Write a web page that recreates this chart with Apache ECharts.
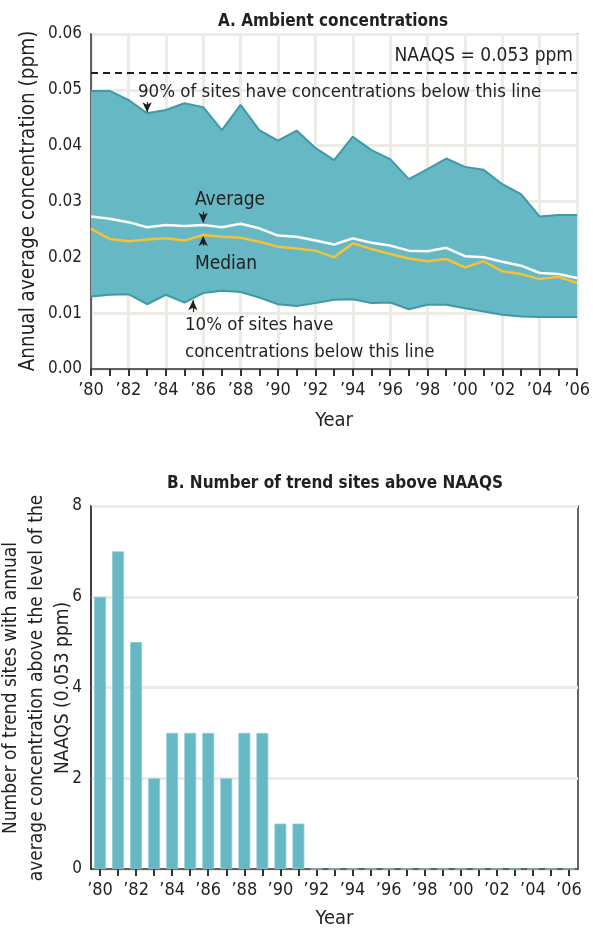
<!DOCTYPE html>
<html><head><meta charset="utf-8">
<script src="https://cdn.jsdelivr.net/npm/echarts@6/dist/echarts.min.js"></script>
<style>html,body{margin:0;padding:0;background:#fff}#c{width:593px;height:931px}</style>
</head><body><div id="c"></div>
<script>
const years = [1980,1981,1982,1983,1984,1985,1986,1987,1988,1989,1990,1991,1992,1993,1994,1995,1996,1997,1998,1999,2000,2001,2002,2003,2004,2005,2006];
const yearLabels = ['’80','’81','’82','’83','’84','’85','’86','’87','’88','’89','’90','’91','’92','’93','’94','’95','’96','’97','’98','’99','’00','’01','’02','’03','’04','’05','’06'];
const p90 = [0.0498,0.0498,0.0482,0.0458,0.0464,0.0476,0.0469,0.0428,0.0473,0.0428,0.0409,0.0427,0.0396,0.0374,0.0416,0.0392,0.0376,0.0340,0.0358,0.0377,0.0362,0.0357,0.0331,0.0313,0.0273,0.0276,0.0276];
const average = [0.0273,0.0269,0.0263,0.0254,0.0258,0.0256,0.0258,0.0254,0.0260,0.0252,0.0239,0.0237,0.0230,0.0223,0.0234,0.0226,0.0221,0.0212,0.0211,0.0217,0.0202,0.0200,0.0192,0.0185,0.0172,0.0170,0.0163];
const median = [0.0251,0.0233,0.0229,0.0232,0.0234,0.0230,0.0240,0.0237,0.0235,0.0228,0.0219,0.0216,0.0212,0.0200,0.0225,0.0215,0.0206,0.0198,0.0193,0.0197,0.0182,0.0193,0.0175,0.0170,0.0161,0.0165,0.0154];
const p10 = [0.0130,0.0133,0.0134,0.0116,0.0133,0.0119,0.0136,0.0140,0.0138,0.0128,0.0116,0.0113,0.0118,0.0124,0.0125,0.0118,0.0119,0.0107,0.0115,0.0115,0.0109,0.0103,0.0097,0.0094,0.0093,0.0093,0.0093];
const sitesAbove = [6,7,5,2,3,3,3,2,3,3,1,1,0,0,0,0,0,0,0,0,0,0,0,0,0,0,0];
const naaqs = 0.053;

const FONT = "'Liberation Sans Narrow','DejaVu Sans Condensed',sans-serif";
const TXT = '#231f20';
const FILL = '#66b8c4';
const EDGE = '#3f99a6';
const GRIDC = '#ecebe6';

const chart = echarts.init(document.getElementById('c'));
const arrow = (yr, y1, y2) => [{coord:[yr,y1]},{coord:[yr,y2]}];
const txt = (text, x, y, size, align, rot) => ({type:'text', x, y, z:100, rotation:rot||0,
  style:{text, fontFamily:FONT, fontSize:size, fill:TXT, textAlign:align, textVerticalAlign:'middle'}});

chart.setOption({
  animation:false,
  textStyle:{fontFamily:FONT, color:TXT},
  title:[
    {text:'A. Ambient concentrations', left:328, top:8, textAlign:'center',
     textStyle:{fontFamily:FONT, fontWeight:'bold', fontSize:17, color:TXT}},
    {text:'B. Number of trend sites above NAAQS', left:330, top:470, textAlign:'center',
     textStyle:{fontFamily:FONT, fontWeight:'bold', fontSize:17, color:TXT}}
  ],
  grid:[
    {left:91, top:34, right:15, height:335, show:true, borderColor:'#333', borderWidth:1.5, backgroundColor:'transparent'},
    {left:91, top:506, right:15, height:363, show:true, borderColor:'#333', borderWidth:1.5, backgroundColor:'transparent'}
  ],
  xAxis:[
    {gridIndex:0, type:'category', data:yearLabels, boundaryGap:false,
     axisLine:{show:true, lineStyle:{color:'#333', width:1.5}},
     axisTick:{show:true, interval:0, length:7, lineStyle:{color:'#333', width:2}},
     axisLabel:{interval:1, margin:12, fontSize:18, color:TXT, fontFamily:FONT},
     splitLine:{show:true, interval:1, lineStyle:{color:GRIDC, width:3}},
     name:'Year', nameLocation:'middle', nameGap:42, nameTextStyle:{fontSize:20, color:TXT, fontFamily:FONT}},
    {gridIndex:1, type:'category', data:yearLabels, boundaryGap:true,
     axisLine:{show:true, lineStyle:{color:'#333', width:1.5}},
     axisTick:{show:true, interval:0, alignWithLabel:true, length:7, lineStyle:{color:'#333', width:2}},
     axisLabel:{interval:1, margin:12, fontSize:18, color:TXT, fontFamily:FONT},
     splitLine:{show:false},
     name:'Year', nameLocation:'middle', nameGap:40, nameTextStyle:{fontSize:20, color:TXT, fontFamily:FONT}},
    {gridIndex:0, type:'value', min:1980, max:2006, show:false}
  ],
  yAxis:[
    {gridIndex:0, type:'value', min:0, max:0.06, interval:0.01,
     axisLine:{show:true, lineStyle:{color:'#333', width:1.5}},
     axisTick:{show:false},
     axisLabel:{margin:9, fontSize:17, color:TXT, fontFamily:FONT, formatter:v=>v.toFixed(2)},
     splitLine:{show:true, lineStyle:{color:GRIDC, width:3}}},
    {gridIndex:1, type:'value', min:0, max:8, interval:2,
     axisLine:{show:true, lineStyle:{color:'#333', width:1.5}},
     axisTick:{show:false},
     axisLabel:{margin:9, fontSize:17, color:TXT, fontFamily:FONT},
     splitLine:{show:true, lineStyle:{color:GRIDC, width:3}}}
  ],
  series:[
    {name:'p10', type:'line', xAxisIndex:0, yAxisIndex:0, stack:'band', data:p10,
     showSymbol:false, symbol:'none', lineStyle:{color:EDGE, width:2}, z:4},
    {name:'band', type:'line', xAxisIndex:0, yAxisIndex:0, stack:'band',
     data:p90.map((v,i)=>v - p10[i]),
     showSymbol:false, symbol:'none', lineStyle:{color:EDGE, width:2}, areaStyle:{color:FILL, opacity:1}, z:2},
    {name:'Median', type:'line', xAxisIndex:0, yAxisIndex:0, data:median,
     showSymbol:false, symbol:'none', lineStyle:{color:'#f4c138', width:2.5}, z:5,
     markLine:{silent:true, symbol:'none', precision:4, label:{show:false},
       lineStyle:{color:'#231f20', width:2, type:[7,5]},
       data:[{yAxis:naaqs}]}},
    {name:'Average', type:'line', xAxisIndex:0, yAxisIndex:0, data:average,
     showSymbol:false, symbol:'none', lineStyle:{color:'#ffffff', width:2.5}, z:6},
    {name:'annotations', type:'line', xAxisIndex:2, yAxisIndex:0,
     data:years.map((y,i)=>[y, average[i]]),
     showSymbol:false, symbol:'none', lineStyle:{opacity:0, width:0}, z:7,
     markLine:{silent:true, symbol:['none','arrow'], symbolSize:[7,10], precision:5, label:{show:false},
       lineStyle:{color:'#231f20', width:1.2, type:'solid'},
       data:[arrow(1983,0.0478,0.0460), arrow(1986,0.0282,0.0262), arrow(1986,0.0221,0.0238), arrow(1985.45,0.0102,0.0123)]}},
    {name:'Sites', type:'bar', xAxisIndex:1, yAxisIndex:1, data:sitesAbove, barWidth:'66%',
     itemStyle:{color:FILL, borderColor:'#8fcbd4', borderWidth:0.8}}
  ],
  graphic:[
    txt('NAAQS = 0.053 ppm', 573, 56, 19, 'right'),
    txt('90% of sites have concentrations below this line', 138, 92, 18.5, 'left'),
    txt('Average', 230, 200, 19, 'center'),
    txt('Median', 226, 264, 19, 'center'),
    txt('10% of sites have', 185, 325, 18.5, 'left'),
    txt('concentrations below this line', 185, 352, 18.5, 'left'),
    txt('Annual average concentration (ppm)', 29, 201, 20.5, 'center', Math.PI/2),
    txt('Number of trend sites with annual', 11, 688, 19, 'center', Math.PI/2),
    txt('average concentration above the level of the', 37, 688, 19, 'center', Math.PI/2),
    txt('NAAQS (0.053 ppm)', 63, 688, 19, 'center', Math.PI/2)
  ]
});
</script></body></html>
